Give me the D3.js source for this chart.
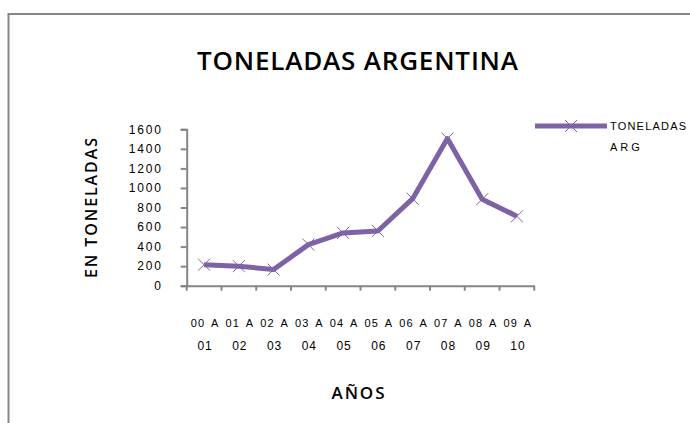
<!DOCTYPE html>
<html>
<head>
<meta charset="utf-8">
<script src="https://cdn.jsdelivr.net/npm/d3@7"></script>
<style>
html,body{margin:0;padding:0;background:#fff;}
svg{display:block;}
</style>
</head>
<body>
<script>
const categories = ["00 A|01","01 A|02","02 A|03","03 A|04","04 A|05","05 A|06","06 A|07","07 A|08","08 A|09","09 A|10"];
const tonnes = [215, 200, 165, 420, 540, 560, 890, 1505, 885, 710];
const yTicks = [0,200,400,600,800,1000,1200,1400,1600];
const seriesName = ["TONELADAS", "ARG"];
const titleText = "TONELADAS ARGENTINA";
const yTitle = "EN TONELADAS";
const xTitle = "AÑOS";

const W = 690, H = 423;
const purple = "#7e62a6";
const axisGray = "#868686";
const smallFont = "Liberation Sans, Arial, sans-serif";

const svg = d3.select("body").append("svg").attr("width", W).attr("height", H);

// outer chart frame (only top and left visible)
svg.append("path")
  .attr("d", `M8.5,${H} L8.5,14 L${W},14`)
  .attr("fill","none").attr("stroke", axisGray).attr("stroke-width", 2);

const x = d3.scaleBand().domain(categories).range([186.7, 534.3]);
const y = d3.scaleLinear().domain([0,1600]).range([285.7, 129.3]);

// Y axis
const yAxis = svg.append("g").attr("transform","translate(186.7,0)")
  .call(d3.axisLeft(y).tickValues(yTicks).tickSize(6).tickPadding(18).tickFormat(d3.format("d")));
yAxis.select(".domain").attr("stroke", axisGray).attr("stroke-width", 2);
yAxis.selectAll(".tick line").attr("stroke", axisGray).attr("stroke-width", 2);
yAxis.selectAll(".tick text").attr("font-family", smallFont).attr("font-size","12px")
  .attr("letter-spacing","1.8px").attr("fill","#000");

// X axis
const xAxis = svg.append("g").attr("transform","translate(0,285.7)")
  .call(d3.axisBottom(x).tickSize(0).tickFormat(""));
xAxis.select(".domain").attr("stroke", axisGray).attr("stroke-width", 2);
xAxis.selectAll(".tick").remove();
const bounds = categories.map(c => x(c)).concat([x.range()[1]]);
xAxis.selectAll("line.bt").data(bounds).enter().append("line")
  .attr("x1", d=>d).attr("x2", d=>d).attr("y1", 0).attr("y2", 5)
  .attr("stroke", axisGray).attr("stroke-width", 2);

const xl = svg.append("g");
categories.forEach(c => {
  const parts = c.split("|");
  const cx = x(c) + x.bandwidth()/2;
  xl.append("text").attr("x", cx + 1).attr("y", 327).attr("text-anchor","middle")
    .attr("font-family", smallFont).attr("font-size","11px")
    .attr("letter-spacing","1.2px").attr("word-spacing","2px").text(parts[0]);
  xl.append("text").attr("x", cx + 1).attr("y", 350).attr("text-anchor","middle")
    .attr("font-family", smallFont).attr("font-size","12px")
    .attr("letter-spacing","1px").text(parts[1]);
});

// line
const line = d3.line().x((d,i)=> x(categories[i]) + x.bandwidth()/2).y(d=>y(d));
svg.append("path").datum(tonnes).attr("d", line)
  .attr("fill","none").attr("stroke", purple).attr("stroke-width", 5).attr("stroke-linejoin","round");

// X markers
const m = 6;
const markers = svg.append("g");
tonnes.forEach((v,i) => {
  const cx = x(categories[i]) + x.bandwidth()/2, cy = y(v);
  markers.append("path")
    .attr("d", `M${cx-m},${cy-m}L${cx+m},${cy+m}M${cx-m},${cy+m}L${cx+m},${cy-m}`)
    .attr("stroke", purple).attr("stroke-width", 1).attr("fill","none");
});

// Titles
svg.append("text").attr("x", 357.5).attr("y", 70).attr("text-anchor","middle")
  .attr("font-family","Open Sans, sans-serif").attr("font-weight","600").attr("font-size","26px")
  .attr("textLength", 321).attr("lengthAdjust","spacing")
  .attr("fill","#000").text(titleText);

svg.append("text").attr("transform","translate(96.5,208) rotate(-90)").attr("text-anchor","middle")
  .attr("font-family","Open Sans, sans-serif").attr("font-weight","600").attr("font-size","16px")
  .attr("textLength", 140).attr("lengthAdjust","spacing")
  .attr("fill","#000").text(yTitle);

svg.append("text").attr("x", 358).attr("y", 399).attr("text-anchor","middle")
  .attr("font-family","Open Sans, sans-serif").attr("font-weight","600").attr("font-size","17px")
  .attr("textLength", 53).attr("lengthAdjust","spacing")
  .attr("fill","#000").text(xTitle);

// Legend
const lg = svg.append("g");
lg.append("line").attr("x1",535).attr("x2",607).attr("y1",126).attr("y2",126)
  .attr("stroke", purple).attr("stroke-width",5);
lg.append("path").attr("d", `M${571-m},${126-m}L${571+m},${126+m}M${571-m},${126+m}L${571+m},${126-m}`)
  .attr("stroke", purple).attr("stroke-width",1);
lg.append("text").attr("x",610).attr("y",130).attr("font-family", smallFont)
  .attr("font-size","11px").attr("letter-spacing","1.2px").text(seriesName[0]);
lg.append("text").attr("x",610).attr("y",151).attr("font-family", smallFont)
  .attr("font-size","11px").attr("letter-spacing","3px").text(seriesName[1]);
</script>
</body>
</html>
